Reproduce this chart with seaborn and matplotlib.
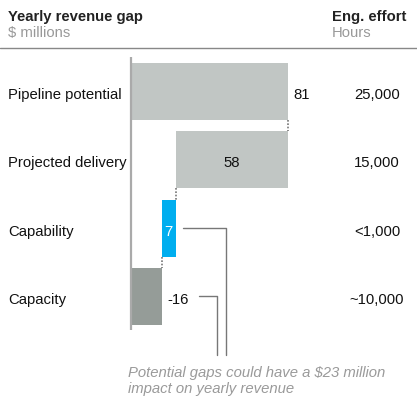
import matplotlib
matplotlib.use("Agg")
import matplotlib.pyplot as plt
from matplotlib.lines import Line2D
import seaborn as sns
import pandas as pd

categories = ["Pipeline potential", "Projected delivery", "Capability", "Capacity"]
values = [81, 58, 7, -16]
effort = ["25,000", "15,000", "<1,000", "~10,000"]
bar_colors = ["#c1c6c4", "#c1c6c4", "#00aeef", "#959c98"]

# waterfall extents
starts, ends = [0], [values[0]]
level = values[0]
for v in values[1:]:
    if len(starts) == 1:
        starts.append(level - v); ends.append(level)
        level = level - v
    else:
        nxt = level - abs(v)
        starts.append(nxt); ends.append(level)
        level = nxt

W, H = 417, 396
sns.set_theme(style="white")
plt.rcParams["font.family"] = ["Liberation Sans", "DejaVu Sans"]

fig = plt.figure(figsize=(W / 100, H / 100), dpi=100)
ax = fig.add_axes([0, 0, 1, 1])

X0 = 131.0
PXU = 157.0 / 81.0
Y0 = 91.5
PYU = 68.3
FS = 10.7

def px2x(p):
    return (p - X0) / PXU

def py2y(p):
    return (p - Y0) / PYU

df = pd.DataFrame({"cat": categories, "start": starts, "end": ends, "color": bar_colors})
for i, row in df.iterrows():
    sns.barplot(x=[row["end"] - row["start"]], y=[row["cat"]], order=categories,
                left=row["start"], color=row["color"], saturation=1,
                width=57 / PYU, errorbar=None, ax=ax, linewidth=0)

ax.set_xlim(px2x(0), px2x(W))
ax.set_ylim(py2y(H), py2y(0))
ax.axis("off")

# axis line
ax.plot([0, 0], [py2y(57), py2y(330)], color="#aaaaaa", lw=1.6, solid_capstyle="butt")
# dotted connectors between steps
for i in range(len(categories) - 1):
    xc = starts[i] if i > 0 else ends[i]
    ax.plot([xc, xc], [i + 57 / PYU / 2, i + 1 - 57 / PYU / 2], color="#777777",
            lw=1.2, ls=(0, (1, 1)))

def ftext(x, y, s, **kw):
    fig.text(x / W, 1 - y / H, s, **kw)

# header
ftext(8, 21, "Yearly revenue gap", fontsize=FS, fontweight="bold", color="#222222", va="baseline")
ftext(8, 37, "$ millions", fontsize=FS, color="#999999", va="baseline")
ftext(332, 21, "Eng. effort", fontsize=FS, fontweight="bold", color="#222222", va="baseline")
ftext(332, 37, "Hours", fontsize=FS, color="#999999", va="baseline")
fig.add_artist(Line2D([0, 1], [1 - 47.5 / H, 1 - 47.5 / H], transform=fig.transFigure,
                      color="#888888", lw=1))

BO = 7.5 / PYU  # baseline offset below bar centre
# category labels and effort
for i, c in enumerate(categories):
    ax.text(px2x(8), i + BO, c, fontsize=FS, color="#111111", va="baseline", ha="left")
    ax.text(px2x(377), i + BO, effort[i], fontsize=FS, color="#111111", va="baseline", ha="center")

# value labels
ax.text(ends[0] + px2x(136), 0 + BO, f"{values[0]}", fontsize=FS, color="#111111", va="baseline", ha="left")
ax.text((starts[1] + ends[1]) / 2, 1 + BO, f"{values[1]}", fontsize=FS, color="#111111", va="baseline", ha="center")
ax.text((starts[2] + ends[2]) / 2, 2 + BO, f"{values[2]}", fontsize=FS, color="white", va="baseline", ha="center")
ax.text(ends[3] + px2x(136), 3 + BO, f"{values[3]}", fontsize=FS, color="#111111", va="baseline", ha="left")

# annotation leader lines
lc = "#777777"
ax.plot([px2x(183), px2x(226), px2x(226)], [2, 2, py2y(355)], color=lc, lw=1)
ax.plot([px2x(199), px2x(217), px2x(217)], [3, 3, py2y(355)], color=lc, lw=1)

ftext(128, 377, "Potential gaps could have a $23 million", fontsize=FS, style="italic",
      color="#9a9a9a", va="baseline")
ftext(128, 393, "impact on yearly revenue", fontsize=FS, style="italic",
      color="#9a9a9a", va="baseline")

fig.savefig("out.png", dpi=100)
